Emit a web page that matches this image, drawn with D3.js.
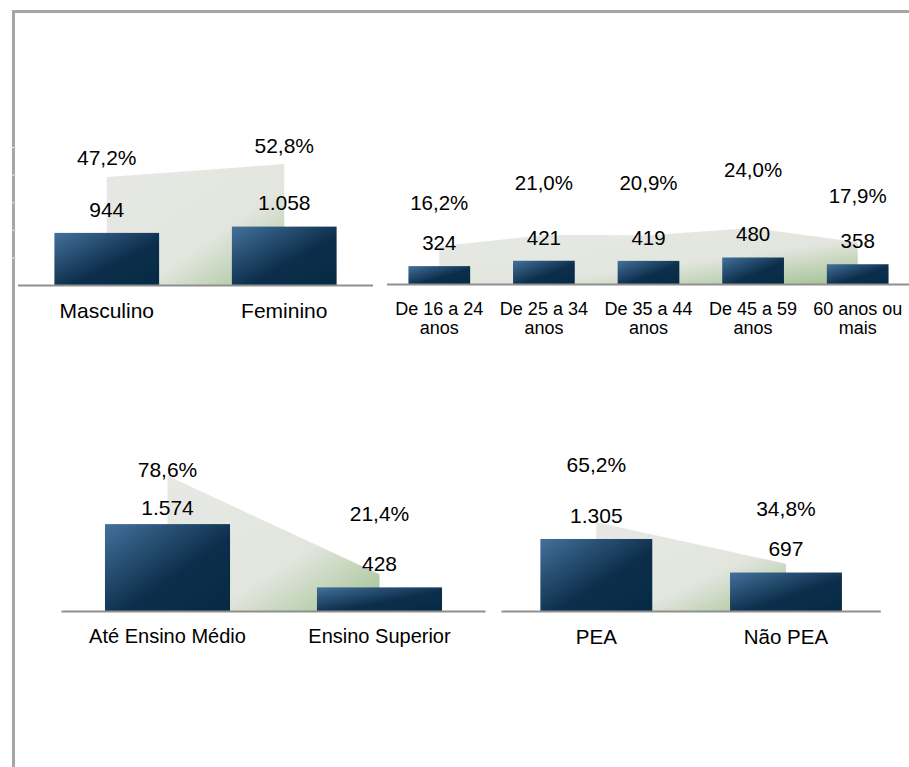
<!DOCTYPE html>
<html>
<head>
<meta charset="utf-8">
<script src="https://cdn.jsdelivr.net/npm/d3@7"></script>
<style>
  html, body { margin: 0; padding: 0; background: #fff; overflow: hidden; }
  svg { display: block; font-family: "Liberation Sans", Arial, sans-serif; }
</style>
</head>
<body>
<div id="chart"></div>
<script>
// data
const sexCategories = ['Masculino', 'Feminino'];
const sexValues = [944, 1058];
const sexShares = [47.2, 52.8];

const ageCategories = ['De 16 a 24 anos', 'De 25 a 34 anos', 'De 35 a 44 anos', 'De 45 a 59 anos', '60 anos ou mais'];
const ageValues = [324, 421, 419, 480, 358];
const ageShares = [16.2, 21.0, 20.9, 24.0, 17.9];

const eduCategories = ['Até Ensino Médio', 'Ensino Superior'];
const eduValues = [1574, 428];
const eduShares = [78.6, 21.4];

const peaCategories = ['PEA', 'Não PEA'];
const peaValues = [1305, 697];
const peaShares = [65.2, 34.8];

const gridTicks = [500, 1000, 1500, 2000, 2500];

const fmtValue = d3.formatLocale({ decimal: ',', thousands: '.', grouping: [3], currency: ['R$', ''] }).format(',d');
const fmtShare = v => v.toFixed(1).replace('.', ',') + '%';

const width = 909;
const height = 767;

const svg = d3.select('#chart').append('svg')
  .attr('width', width)
  .attr('height', height);

const defs = svg.append('defs');

const barGrad = defs.append('linearGradient')
  .attr('id', 'barGrad')
  .attr('x1', 0).attr('y1', 0).attr('x2', 1).attr('y2', 1);
barGrad.append('stop').attr('offset', 0).attr('stop-color', '#44719b');
barGrad.append('stop').attr('offset', 0.58).attr('stop-color', '#0c2e4b');
barGrad.append('stop').attr('offset', 1).attr('stop-color', '#062a43');

const areaGrad = defs.append('linearGradient')
  .attr('id', 'areaGrad')
  .attr('x1', 0).attr('y1', 0).attr('x2', 1).attr('y2', 1);
areaGrad.append('stop').attr('offset', 0).attr('stop-color', '#e7e8e4');
areaGrad.append('stop').attr('offset', 0.6).attr('stop-color', '#e3e6df');
areaGrad.append('stop').attr('offset', 1).attr('stop-color', '#a0c190');

// bar height is shared by all four panels
const valueHeight = d3.scaleLinear().domain([0, 2500]).range([0, 138]);

// frame around the slide
svg.append('rect')
  .attr('x', 13.5)
  .attr('y', 11.5)
  .attr('width', 1200)
  .attr('height', 1200)
  .attr('fill', 'none')
  .attr('stroke', '#a6a6a6')
  .attr('stroke-width', 3);

function wrap(text, maxWidth, lineHeight) {
  text.each(function () {
    const t = d3.select(this);
    const words = t.text().split(/\s+/);
    const x = t.attr('x');
    let line = [];
    let tspan = t.text(null).append('tspan').attr('x', x).attr('dy', 0);

    words.forEach(word => {
      line.push(word);
      tspan.text(line.join(' '));
      if (tspan.node().getComputedTextLength() > maxWidth && line.length > 1) {
        line.pop();
        tspan.text(line.join(' '));
        line = [word];
        tspan = t.append('tspan').attr('x', x).attr('dy', lineHeight).text(word);
      }
    });
  });
}

function drawPanel(p) {
  const g = svg.append('g');

  const x = d3.scaleBand()
    .domain(p.categories)
    .range([p.x0, p.x1])
    .paddingInner(0.41)
    .paddingOuter(0.205);

  const shareHeight = d3.scaleLinear().domain([0, 100]).range([0, p.shareScale]);
  const shareLabelY = d3.scaleLinear().domain([0, 100])
    .range([p.baseline - p.shareLabel[0], p.baseline - p.shareLabel[0] - p.shareLabel[1]]);
  const valueLabelY = d3.scaleLinear().domain([0, 1000])
    .range([p.baseline - p.valueLabel[0], p.baseline - p.valueLabel[0] - p.valueLabel[1]]);

  const rows = p.categories.map((c, i) => ({ cat: c, value: p.values[i], share: p.shares[i] }));
  const cx = d => x(d.cat) + x.bandwidth() / 2;

  const area = d3.area()
    .x(cx)
    .y0(p.baseline)
    .y1(d => p.baseline - shareHeight(d.share));

  g.append('path')
    .datum(rows)
    .attr('d', area)
    .attr('fill', 'url(#areaGrad)');

  g.selectAll('rect.bar')
    .data(rows)
    .enter().append('rect')
    .attr('class', 'bar')
    .attr('x', d => x(d.cat))
    .attr('y', d => p.baseline - valueHeight(d.value))
    .attr('width', x.bandwidth())
    .attr('height', d => valueHeight(d.value))
    .attr('fill', 'url(#barGrad)');

  g.append('line')
    .attr('x1', p.x0)
    .attr('x2', p.x1)
    .attr('y1', p.baseline + 0.5)
    .attr('y2', p.baseline + 0.5)
    .attr('stroke', '#8f8f8f')
    .attr('stroke-width', 2);

  g.selectAll('text.share')
    .data(rows)
    .enter().append('text')
    .attr('class', 'share')
    .attr('x', cx)
    .attr('y', d => shareLabelY(d.share))
    .attr('text-anchor', 'middle')
    .attr('font-size', p.fontSize)
    .attr('fill', '#000')
    .text(d => fmtShare(d.share));

  g.selectAll('text.value')
    .data(rows)
    .enter().append('text')
    .attr('class', 'value')
    .attr('x', cx)
    .attr('y', d => valueLabelY(d.value))
    .attr('text-anchor', 'middle')
    .attr('font-size', p.fontSize)
    .attr('fill', '#000')
    .text(d => fmtValue(d.value));

  g.selectAll('text.cat')
    .data(rows)
    .enter().append('text')
    .attr('class', 'cat')
    .attr('x', cx)
    .attr('y', p.baseline + p.catOffset)
    .attr('text-anchor', 'middle')
    .attr('font-size', p.catSize)
    .attr('fill', '#000')
    .text(d => d.cat)
    .call(wrap, x.step() - 4, p.catSize + 0.5);

  return g;
}

const sexPanel = {
  categories: sexCategories, values: sexValues, shares: sexShares,
  x0: 18, x1: 373, baseline: 285, shareScale: 229,
  shareLabel: [19, 214], valueLabel: [16, 55.3],
  fontSize: 21, catSize: 21, catOffset: 33
};

drawPanel(sexPanel);

drawPanel({
  categories: ageCategories, values: ageValues, shares: ageShares,
  x0: 387, x1: 910, baseline: 284, shareScale: 233,
  shareLabel: [5.5, 423], valueLabel: [16, 55.3],
  fontSize: 20.5, catSize: 18, catOffset: 31
});

drawPanel({
  categories: eduCategories, values: eduValues, shares: eduShares,
  x0: 61.5, x1: 485.5, baseline: 611, shareScale: 172,
  shareLabel: [73.8, 77], valueLabel: [19.5, 48.6],
  fontSize: 21, catSize: 20, catOffset: 32
});

drawPanel({
  categories: peaCategories, values: peaValues, shares: peaShares,
  x0: 501.5, x1: 880.8, baseline: 611, shareScale: 136,
  shareLabel: [44.3, 145.7], valueLabel: [16, 55.3],
  fontSize: 21, catSize: 20.5, catOffset: 33
});

// faint gridline stubs of the first panel showing through the frame
const gridY = d3.scaleLinear().domain([0, 2500]).range([sexPanel.baseline, sexPanel.baseline - valueHeight(2500)]);
const grid = svg.append('g')
  .attr('transform', 'translate(16,0)')
  .call(d3.axisLeft(gridY).tickValues(gridTicks).tickSize(4).tickFormat(''));
grid.select('.domain').remove();
grid.selectAll('line').attr('stroke', '#e2e2e2');
</script>
</body>
</html>
